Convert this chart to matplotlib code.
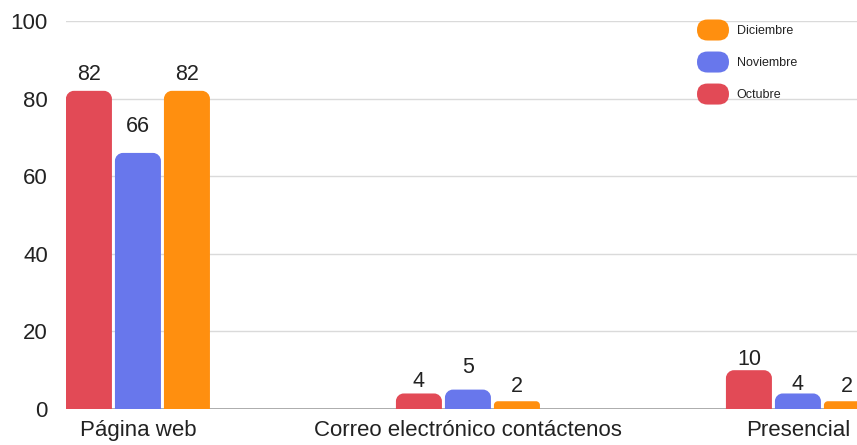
import matplotlib
matplotlib.use("Agg")
import matplotlib.pyplot as plt
from matplotlib.path import Path
from matplotlib.patches import PathPatch, FancyBboxPatch
from matplotlib.legend_handler import HandlerPatch
import numpy as np

plt.rcParams['font.family'] = ['Liberation Sans', 'DejaVu Sans']

# Data
categories = ["Página web", "Correo electrónico contáctenos", "Presencial"]
series_names = ["Octubre", "Noviembre", "Diciembre"]
octubre = [82, 4, 10]
noviembre = [66, 5, 4]
diciembre = [82, 2, 2]
y_ticks = [0, 20, 40, 60, 80, 100]

colors = ["#E24A56", "#6877EC", "#FF8F0F"]
# extra lift (px) of each value label above its bar
label_lift_px = [[11, 21, 11], [6.5, 16.5, 9], [5, 3.6, 9]]

W, H = 857, 445
fig = plt.figure(figsize=(W / 100, H / 100), dpi=100)
ax_left, ax_bottom, ax_top = 66, 409, 21
ax = fig.add_axes([ax_left / W, (H - ax_bottom) / H, 1 - ax_left / W, (ax_bottom - ax_top) / H])

x = np.arange(len(categories))
ax.set_xlim(-0.218, 2.179)
ax.set_ylim(0, 100)

bar_w = 0.1394
step = 0.1485
series = [octubre, noviembre, diciembre]

# px-per-data-unit for rounded corners
fig.canvas.draw()
p0 = ax.transData.transform((0, 0))
p1 = ax.transData.transform((1, 1))
sx = p1[0] - p0[0]
sy = p1[1] - p0[1]


def rounded_top_path(x0, x1, y1, r_px):
    h_px = y1 * sy
    r = min(r_px, h_px / 2)
    rx, ry = r / sx, r / sy
    k = 0.5523
    verts = [
        (x0, 0), (x1, 0), (x1, y1 - ry),
        (x1, y1 - ry + k * ry), (x1 - rx + k * rx, y1), (x1 - rx, y1),
        (x0 + rx, y1),
        (x0 + rx - k * rx, y1), (x0, y1 - ry + k * ry), (x0, y1 - ry),
        (x0, 0),
    ]
    codes = [Path.MOVETO, Path.LINETO, Path.LINETO,
             Path.CURVE4, Path.CURVE4, Path.CURVE4,
             Path.LINETO,
             Path.CURVE4, Path.CURVE4, Path.CURVE4,
             Path.CLOSEPOLY]
    return Path(verts, codes)


handles = []
for si, (vals, col, name) in enumerate(zip(series, colors, series_names)):
    bars = ax.bar(x + (si - 1) * step, vals, width=bar_w, color=col, label=name)
    for bi, rect in enumerate(bars):
        rect.set_visible(False)
        x0 = rect.get_x()
        x1 = x0 + rect.get_width()
        h = rect.get_height()
        ax.add_patch(PathPatch(rounded_top_path(x0, x1, h, 8), facecolor=col,
                               edgecolor='none', zorder=3, clip_on=True))
        ax.annotate(f"{vals[bi]}", (x0 + bar_w / 2, h), xytext=(0, label_lift_px[bi][si] * 0.72),
                    textcoords="offset points", ha="center", va="baseline",
                    fontsize=15.5, color="#222222", annotation_clip=False)
    handles.append(bars)

# grid
for t in y_ticks:
    ax.axhline(t, color="#9E9E9E" if t == 0 else "#DADADA", lw=1.2 if t == 0 else 1, zorder=1)

ax.set_yticks(y_ticks)
ax.set_xticks(x)
ax.set_xticklabels(categories)
ax.tick_params(axis='y', length=0, pad=13, labelsize=16, labelcolor="#222222")
ax.tick_params(axis='x', length=0, pad=8, labelsize=16, labelcolor="#222222")
for s in ax.spines.values():
    s.set_visible(False)


class RoundHandler(HandlerPatch):
    def create_artists(self, legend, orig_handle, xdescent, ydescent, width, height, fontsize, trans):
        fc = orig_handle.patches[0].get_facecolor()
        p = FancyBboxPatch((-xdescent, -ydescent), width, height,
                           boxstyle=f"round,pad=0,rounding_size={height / 2}",
                           facecolor=fc, edgecolor='none', transform=trans)
        return [p]


leg = fig.legend(handles[::-1], series_names[::-1], loc="upper left",
                 bbox_to_anchor=(697 / W, 1 - 19.5 / H), bbox_transform=fig.transFigure,
                 frameon=False, fontsize=9, handlelength=2.56, handleheight=2.21,
                 handletextpad=0.6, labelspacing=0.88, borderpad=0, borderaxespad=0,
                 handler_map={type(handles[0]): RoundHandler()})
for t in leg.get_texts():
    t.set_color("#222222")

fig.savefig("out.png", dpi=100)
